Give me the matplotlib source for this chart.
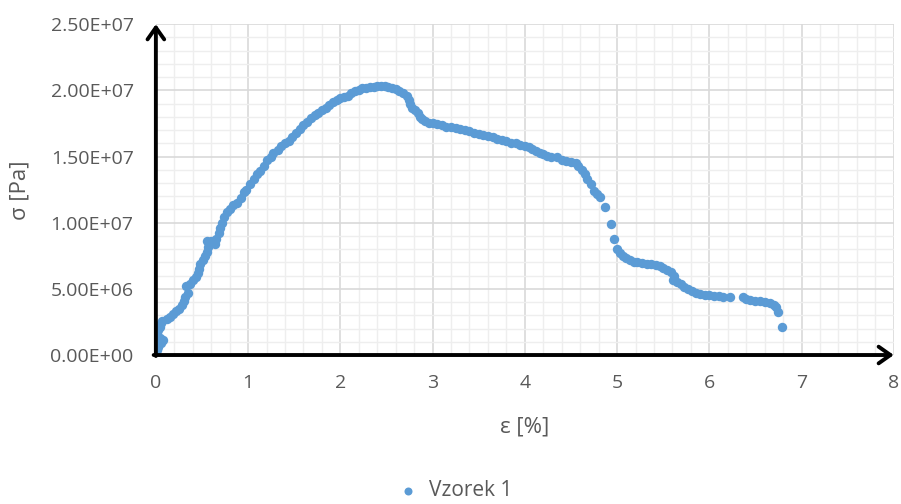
import numpy as np
import matplotlib
matplotlib.use('Agg')
import matplotlib.pyplot as plt
from matplotlib.ticker import MultipleLocator, FuncFormatter

# strain [%] and stress [MPa]
strain = [0.01, 0.02, 0.06, 0.08, 0.05, 0.01, 0.02, 0.04, 0.06, 0.07,
          0.12, 0.15, 0.19, 0.22, 0.25, 0.28, 0.30, 0.32, 0.35, 0.33,
          0.37, 0.40, 0.43, 0.46, 0.47, 0.48, 0.51, 0.53, 0.55, 0.57,
          0.55, 0.60, 0.64, 0.65, 0.68, 0.70, 0.72, 0.74, 0.77, 0.80,
          0.84, 0.88, 0.92, 0.96, 0.98, 1.02, 1.06, 1.10, 1.13, 1.17,
          1.21, 1.25, 1.27, 1.32, 1.36, 1.40, 1.44, 1.48, 1.52, 1.56,
          1.60, 1.64, 1.68, 1.72, 1.76, 1.80, 1.84, 1.88, 1.92, 1.96,
          2.00, 2.04, 2.08, 2.12, 2.16, 2.20, 2.24, 2.28, 2.32, 2.36,
          2.40, 2.44, 2.48, 2.52, 2.56, 2.60, 2.64, 2.68, 2.72, 2.74,
          2.76, 2.78, 2.81, 2.84, 2.86, 2.88, 2.92, 2.96, 3.00, 3.05,
          3.10, 3.15, 3.20, 3.25, 3.30, 3.35, 3.40, 3.45, 3.50, 3.55,
          3.60, 3.65, 3.70, 3.75, 3.80, 3.85, 3.90, 3.95, 4.00, 4.04,
          4.08, 4.12, 4.16, 4.20, 4.24, 4.28, 4.35, 4.40, 4.45, 4.50,
          4.55, 4.58, 4.62, 4.65, 4.67, 4.72, 4.75, 4.78, 4.82, 4.87,
          4.93, 4.97, 5.00, 5.03, 5.06, 5.10, 5.14, 5.18, 5.22, 5.27,
          5.32, 5.37, 5.42, 5.46, 5.50, 5.54, 5.58, 5.62, 5.61, 5.65,
          5.69, 5.73, 5.77, 5.81, 5.86, 5.90, 5.95, 6.00, 6.05, 6.10,
          6.15, 6.22, 6.36, 6.40, 6.44, 6.50, 6.55, 6.60, 6.66, 6.70,
          6.72, 6.75, 6.79]
stress_mpa = [0.4, 0.6, 0.9, 1.1, 1.3, 1.6, 1.9, 2.1, 2.4, 2.6,
              2.7, 2.9, 3.1, 3.3, 3.5, 3.8, 4.1, 4.4, 4.7, 5.2,
              5.4, 5.7, 5.9, 6.2, 6.5, 6.9, 7.2, 7.5, 7.8, 8.2,
              8.6, 8.6, 8.4, 8.8, 9.2, 9.6, 10.0, 10.4, 10.8, 11.0,
              11.3, 11.5, 11.9, 12.3, 12.5, 12.9, 13.3, 13.7, 13.9, 14.3,
              14.7, 15.0, 15.3, 15.5, 15.8, 16.0, 16.2, 16.5, 16.8, 17.1,
              17.4, 17.6, 17.9, 18.1, 18.3, 18.5, 18.7, 18.9, 19.1, 19.3,
              19.4, 19.5, 19.6, 19.8, 19.95, 20.05, 20.15, 20.2, 20.25, 20.28,
              20.3, 20.3, 20.3, 20.28, 20.2, 20.1, 19.95, 19.8, 19.6, 19.3,
              19.0, 18.7, 18.5, 18.3, 18.0, 17.8, 17.65, 17.55, 17.5, 17.45,
              17.35, 17.25, 17.2, 17.15, 17.05, 17.0, 16.9, 16.8, 16.7, 16.6,
              16.55, 16.45, 16.35, 16.25, 16.15, 16.05, 16.0, 15.9, 15.8, 15.7,
              15.55, 15.45, 15.3, 15.2, 15.05, 14.95, 14.95, 14.75, 14.65, 14.55,
              14.5, 14.3, 14.0, 13.7, 13.3, 12.9, 12.4, 12.2, 11.95, 11.15,
              9.9, 8.8, 8.0, 7.7, 7.5, 7.35, 7.2, 7.05, 7.0, 6.95,
              6.9, 6.88, 6.82, 6.72, 6.6, 6.45, 6.25, 6.0, 5.65, 5.5,
              5.35, 5.15, 5.0, 4.85, 4.7, 4.6, 4.55, 4.5, 4.48, 4.45,
              4.4, 4.38, 4.35, 4.25, 4.15, 4.1, 4.05, 4.0, 3.9, 3.8,
              3.6, 3.25, 2.15]
series_name = 'Vzorek 1'

stress = np.array(stress_mpa) * 1e6

plt.rcParams['font.family'] = ['Open Sans', 'DejaVu Sans']
txt = '#595959'

fig = plt.figure(figsize=(9.01, 5.04), dpi=100)
ax = fig.add_axes([0.173, 0.2956, 0.819, 0.6564])

ax.scatter(strain, stress, s=46, color='#5B9BD5', zorder=3, label=series_name,
           linewidths=0)

ax.set_xlim(0, 8)
ax.set_ylim(0, 2.5e7)
ax.xaxis.set_major_locator(MultipleLocator(1))
ax.xaxis.set_minor_locator(MultipleLocator(0.2))
ax.yaxis.set_major_locator(MultipleLocator(5e6))
ax.yaxis.set_minor_locator(MultipleLocator(1e6))
ax.yaxis.set_major_formatter(FuncFormatter(lambda v, p: f'{v:.2E}'))
ax.grid(which='major', color='#d9d9d9', lw=1.2)
ax.grid(which='minor', color='#eeeeee', lw=1.0)
ax.set_axisbelow(True)
for s in ax.spines.values():
    s.set_visible(False)
ax.tick_params(which='both', length=0, labelsize=14, colors=txt)
ax.tick_params(axis='y', pad=16)
ax.tick_params(axis='x', pad=14)

# axis arrows
arr = dict(arrowstyle='->,head_length=0.85,head_width=0.6', lw=2.8,
           color='black', shrinkA=0, shrinkB=0)
ax.annotate('', xy=(0, 1.0), xytext=(0, -0.003), xycoords='axes fraction',
            arrowprops=arr, annotation_clip=False)
ax.annotate('', xy=(1.0, 0), xytext=(-0.003, 0), xycoords='axes fraction',
            arrowprops=arr, annotation_clip=False)

ax.set_xlabel('ε [%]', fontsize=16, color=txt, va='center')
ax.xaxis.set_label_coords(0.5, -0.2175)
ax.set_ylabel('σ [Pa]', fontsize=16, color=txt, va='center')
ax.yaxis.set_label_coords(-0.184, 0.4985)

fig.legend(loc='center', bbox_to_anchor=(0.499, 0.026), frameon=False,
           fontsize=15, labelcolor=txt, handletextpad=0.0, markerscale=0.85)

fig.savefig('out.png', dpi=100)
